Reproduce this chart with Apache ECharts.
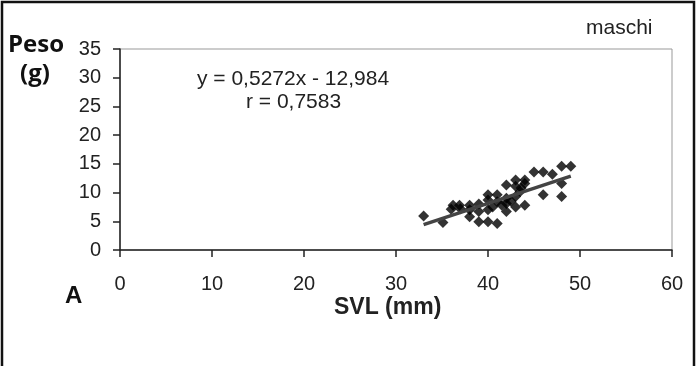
<!DOCTYPE html>
<html>
<head>
<meta charset="utf-8">
<script src="https://cdn.jsdelivr.net/npm/echarts@6/dist/echarts.min.js"></script>
<style>
  html, body { margin: 0; padding: 0; background: #fff; }
  #chart { width: 696px; height: 366px; }
</style>
</head>
<body>
<div id="chart"></div>
<script>
// SVL (mm) and weight (g) of the males
var svl = [33.0, 35.1, 36.0, 36.2, 36.9, 37.0, 38.0, 38.0, 38.0, 39.0, 39.0, 39.0,
           40.0, 40.0, 40.0, 40.0, 40.5, 41.0, 41.0, 41.0, 41.5, 42.0, 42.0, 42.0,
           42.0, 42.5, 43.0, 43.0, 43.0, 43.0, 43.5, 44.0, 44.0, 44.0, 43.6, 45.0,
           46.0, 46.0, 47.0, 48.0, 49.0, 48.0, 48.0];
var peso = [5.9, 4.8, 7.1, 7.8, 7.8, 7.2, 7.8, 5.8, 7.0, 8.0, 4.9, 6.7,
            9.6, 8.7, 7.0, 4.9, 7.5, 9.6, 4.6, 8.4, 7.8, 11.3, 8.1, 6.7,
            9.0, 8.5, 12.2, 11.1, 9.3, 7.5, 10.2, 12.2, 11.6, 7.8, 10.8, 13.6,
            13.6, 9.6, 13.2, 14.6, 14.6, 11.6, 9.3];
// regression line end points
var trendX = [33, 49];
var trendY = [4.41, 12.85];

var xTicks = [0, 10, 20, 30, 40, 50, 60];
var yTicks = [0, 5, 10, 15, 20, 25, 30, 35];

var points = svl.map(function (x, i) { return [x, peso[i]]; });
var trend = trendX.map(function (x, i) { return [x, trendY[i]]; });

var chartDom = document.getElementById('chart');
var myChart = echarts.init(chartDom);
var option;

option = {
    animation: false,
    backgroundColor: '#fff',
    grid: {
        left: 120,
        right: 24,
        top: 49,
        bottom: 116,
        show: true,
        borderColor: '#999',
        borderWidth: 1
    },
    xAxis: {
        type: 'value',
        min: xTicks[0],
        max: xTicks[xTicks.length - 1],
        interval: 10,
        splitLine: { show: false },
        axisLine: { onZero: false, lineStyle: { color: '#222', width: 1.5 } },
        axisTick: { length: 7, lineStyle: { color: '#222', width: 1.5 } },
        axisLabel: {
            margin: 24,
            color: '#222',
            fontFamily: 'Liberation Sans',
            fontSize: 20
        }
    },
    yAxis: {
        type: 'value',
        min: yTicks[0],
        max: yTicks[yTicks.length - 1],
        interval: 5,
        splitLine: { show: false },
        axisLine: { show: true, lineStyle: { color: '#222', width: 1.5 } },
        axisTick: { show: true, length: 7, lineStyle: { color: '#222', width: 1.5 } },
        axisLabel: {
            margin: 19,
            color: '#222',
            fontFamily: 'Liberation Sans',
            fontSize: 20
        }
    },
    series: [
        {
            name: 'maschi',
            type: 'scatter',
            symbol: 'diamond',
            symbolSize: 11,
            itemStyle: { color: '#000' },
            data: points,
            z: 3
        },
        {
            name: 'trend',
            type: 'line',
            symbol: 'none',
            lineStyle: { color: '#444', width: 3.5 },
            data: trend,
            z: 4
        }
    ],
    graphic: [
        {
            type: 'rect',
            shape: { x: 2, y: 2, width: 692, height: 380 },
            style: { fill: 'none', stroke: '#111', lineWidth: 2.5 }
        },
        {
            type: 'text', left: 8, top: 33,
            style: { text: 'Peso', font: 'bold 24px "Open Sans"', fill: '#111' }
        },
        {
            type: 'text', left: 20, top: 62,
            style: { text: '(g)', font: 'bold 24px "Open Sans"', fill: '#111' }
        },
        {
            type: 'text', left: 586, top: 18,
            style: { text: 'maschi', font: '21px "Liberation Sans"', fill: '#222' }
        },
        {
            type: 'text', left: 197, top: 69,
            style: { text: 'y = 0,5272x - 12,984', font: '21px "Liberation Sans"', fill: '#222' }
        },
        {
            type: 'text', left: 246, top: 92,
            style: { text: 'r = 0,7583', font: '21px "Liberation Sans"', fill: '#222' }
        },
        {
            type: 'text', left: 65, top: 284,
            style: { text: 'A', font: 'bold 24px "Liberation Sans"', fill: '#111' }
        },
        {
            type: 'text', left: 334, top: 296,
            style: { text: 'SVL (mm)', font: 'bold 23px "Liberation Sans"', fill: '#222' }
        }
    ]
};

option && myChart.setOption(option);
</script>
</body>
</html>
